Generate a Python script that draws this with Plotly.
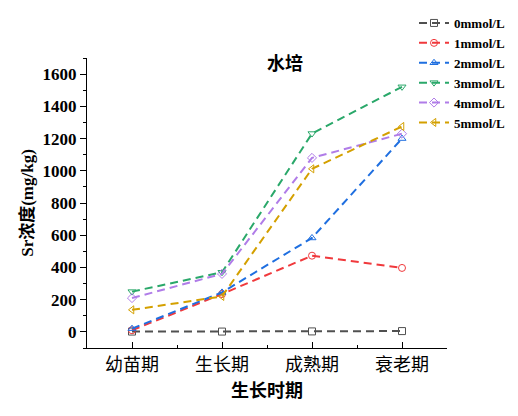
import plotly.graph_objects as go

categories = ["幼苗期", "生长期", "成熟期", "衰老期"]
series_names = ["0mmol/L", "1mmol/L", "2mmol/L", "3mmol/L", "4mmol/L", "5mmol/L"]
v0 = [2, 2, 3, 5]
v1 = [10, 235, 473, 397]
v2 = [20, 245, 583, 1200]
v3 = [250, 370, 1231, 1521]
v4 = [210, 360, 1080, 1230]
v5 = [137, 220, 1012, 1275]
values = [v0, v1, v2, v3, v4, v5]
colors = ["#505050", "#f0393c", "#1f6fe0", "#2aa86a", "#b07ce8", "#d4a000"]
symbols = ["square-open", "circle-open", "triangle-up-open", "triangle-down-open",
           "diamond-open", "triangle-left-open"]

serif = "Liberation Serif, Noto Sans CJK SC, serif"
cjk = "Noto Sans CJK SC, sans-serif"
xpos = list(range(len(categories)))

W, H = 518, 416
L, R, T, B = 79, 79, 50, 76
pw, ph = W - L - R, H - T - B

fig = go.Figure()
for name, vals, col, sym in zip(series_names, values, colors, symbols):
    fig.add_trace(go.Scatter(
        x=xpos, y=vals, name=name, mode="lines+markers",
        line=dict(color=col, width=2, dash="8px,5px"),
        marker=dict(symbol=sym, size=7, color=col, line=dict(width=1, color=col)),
    ))

fig.update_layout(
    width=W, height=H,
    margin=dict(l=L, r=R, t=T, b=B, autoexpand=False),
    paper_bgcolor="white", plot_bgcolor="white",
    title=dict(text="<b>水培</b>", x=277 / W, xanchor="center", y=1 - 56 / H, yanchor="middle",
               font=dict(family=cjk, size=18, color="black")),
    legend=dict(x=(406 - L) / pw, y=(H - B) / ph, xanchor="left", yanchor="top",
                font=dict(family=serif, size=13, color="black", weight="bold"),
                bgcolor="rgba(0,0,0,0)", itemwidth=30, tracegroupgap=0),
    font=dict(family=serif, color="black"),
)
fig.update_xaxes(
    range=[-0.5, 3.5], tickmode="array", tickvals=xpos, ticktext=categories,
    showgrid=False, zeroline=False, showline=True, linecolor="black", linewidth=1,
    ticks="inside", ticklen=6, tickcolor="black",
    tickfont=dict(family=cjk, size=18, color="black"),
    minor=dict(tick0=0.5, dtick=1, ticks="inside", ticklen=3, tickcolor="black", showgrid=False),
    title=dict(text="<b>生长时期</b>", font=dict(family=cjk, size=18, color="black"), standoff=8),
)
fig.update_yaxes(
    range=[-100, 1700], tick0=0, dtick=200,
    showgrid=False, zeroline=False, showline=True, linecolor="black", linewidth=1,
    ticks="outside", ticklen=6, tickcolor="black",
    tickfont=dict(family=serif, size=17, color="black", weight="bold"),
    minor=dict(dtick=100, ticks="outside", ticklen=3, tickcolor="black", showgrid=False),
    title=dict(text="<b>Sr浓度(mg/kg)</b>", font=dict(family=serif, size=17, color="black"), standoff=4),
)

fig.write_html("out.html")
